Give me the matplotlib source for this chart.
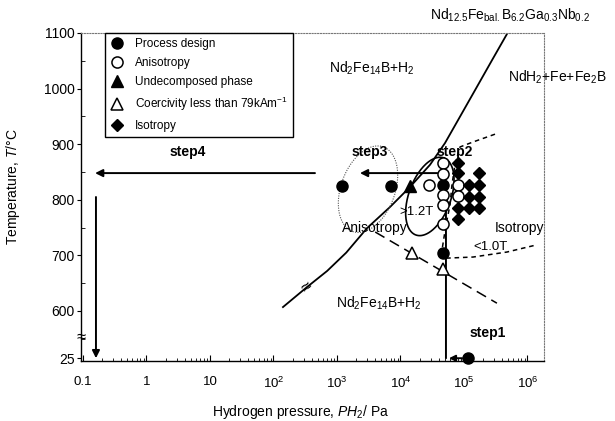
import numpy as np
import matplotlib
matplotlib.use('Agg')
import matplotlib.pyplot as plt
from matplotlib.lines import Line2D

plt.rcParams['font.family'] = ['Liberation Sans', 'DejaVu Sans']
plt.rcParams['mathtext.fontset'] = 'custom'
plt.rcParams['mathtext.rm'] = 'Liberation Sans'
plt.rcParams['mathtext.it'] = 'Liberation Sans:italic'
plt.rcParams['mathtext.bf'] = 'Liberation Sans:bold'

# ---------------- data ----------------
x_ticks = [0.1, 1, 10, 1e2, 1e3, 1e4, 1e5, 1e6]
x_tick_labels = ['0.1', '1', '10', '10$^2$', '10$^3$', '10$^4$', '10$^5$', '10$^6$']
y_ticks = [25, 600, 700, 800, 900, 1000, 1100]
y_tick_labels = ['25', '600', '700', '800', '900', '1000', '1100']

design_P = [1.2e3, 7.0e3, 4.7e4, 4.7e4, 1.15e5]
design_T = [825, 825, 827, 704, 25]
aniso_P = [4.7e4, 4.7e4, 4.7e4, 4.7e4, 4.7e4, 2.8e4, 8.0e4, 8.0e4]
aniso_T = [866, 846, 809, 790, 756, 826, 827, 806]
undec_P = [1.4e4]
undec_T = [825]
lowhc_P = [1.5e4, 4.7e4]
lowhc_T = [704, 676]
iso_P = [8.0e4, 8.0e4, 8.0e4, 8.0e4, 1.2e5, 1.2e5, 1.2e5, 1.75e5, 1.75e5, 1.75e5, 1.75e5]
iso_T = [866, 848, 785, 766, 827, 805, 785, 848, 827, 805, 785]

# HDDR phase boundary of Nd12.5Fe(bal)B6.2Ga0.3Nb0.2
boundary_P = [1.41e2, 3.37e2, 7.0e2, 1.40e3, 2.97e3, 6.84e3, 1.41e4, 2.92e4, 5.02e4,
              7.76e4, 1.49e5, 2.76e5, 4.85e5]
boundary_T = [607, 643, 672, 705, 749, 787, 823, 863, 902, 940, 997, 1051, 1100]

# anisotropy / isotropy border (<1.0T)
border_P = [3.08e5, 1.39e5, 8.65e4, 7.2e4, 6.47e4, 6.03e4, 5.21e4, 4.51e4,
            5.21e4, 1.39e5, 4.75e5, 1.41e6]
border_T = [918, 904, 895, 863, 827, 791, 755, 710, 695, 697, 706, 719]

# coercivity border (long dashed)
hc_line_P = [4.0e3, 3.3e5]
hc_line_T = [742, 614]

# process route (step arrows): (P_start, T_start, P_end, T_end)
step4_h = (450, 848, 0.155, 848)
step4_v = (0.16, 805, 0.16, 25)
step3_h = (3.8e4, 848, 2.3e3, 848)
step1_h = (9.3e4, 25, 5.8e4, 25)
step1_v = (5.2e4, 25, 5.2e4, 806)

Y25 = 515  # axis position standing for 25 degC (axis break)


def ty(t):
    t = np.asarray(t, dtype=float)
    return np.where(t == 25, Y25, t)


# ---------------- figure ----------------
W, H = 615, 421
fig = plt.figure(figsize=(W / 100, H / 100), dpi=100)
ax = fig.add_axes([81 / W, 1 - 361 / H, (544 - 81) / W, (361 - 33) / H])
ax.set_xscale('log')
ax.set_xlim(0.093, 1.82e6)
ax.set_ylim(510, 1100)

# spines
for s in ['top', 'right']:
    ax.spines[s].set_linestyle((0, (1, 1.5)))
    ax.spines[s].set_color('#777777')
    ax.spines[s].set_linewidth(0.8)
for s in ['left', 'bottom']:
    ax.spines[s].set_linewidth(1.0)

ax.set_xticks(x_ticks)
ax.set_xticklabels(x_tick_labels)
ax.set_yticks(ty(y_ticks))
ax.set_yticklabels(y_tick_labels)
ax.set_yticks([550, 650, 750, 850, 950, 1050], minor=True)
ax.tick_params(axis='x', which='major', direction='in', length=4, pad=11, labelsize=9.5)
ax.tick_params(axis='x', which='minor', direction='in', length=2.5)
ax.tick_params(axis='y', which='major', direction='out', length=3, pad=1.5, labelsize=10)
ax.tick_params(axis='y', which='minor', direction='in', length=3)
ax.tick_params(top=False, right=False, which='both')

ax.set_xlabel(r'Hydrogen pressure, $\it{PH_2}$/ Pa', fontsize=10)
ax.xaxis.set_label_coords((301 - 81) / 463, (361 - 403) / 328)
ax.set_ylabel(r'Temperature, $\it{T}$/°C', fontsize=10)
ax.yaxis.set_label_coords(-(81 - 22) / 463, (361 - 187) / 328)

# axis break marks
ax.text(0.0, 553, '≈', transform=ax.get_yaxis_transform(), ha='center', va='center',
        fontsize=12, clip_on=False)

# lines
ax.plot(boundary_P, boundary_T, color='black', lw=1.3, zorder=2)
ax.text(3.4e2, 642, '≈', ha='center', va='center', fontsize=13, rotation=40, zorder=3)
ax.plot(border_P, border_T, color='black', lw=1.1, dashes=(3, 2.5), zorder=2)
ax.plot(hc_line_P, hc_line_T, color='black', lw=1.1, dashes=(7, 4), zorder=2)


def ellipse(cP, cT, a_px, b_px, ang):
    c = ax.transData.transform((cP, cT))
    t = np.linspace(0, 2 * np.pi, 240)
    th = np.deg2rad(ang)
    x = a_px * np.cos(t)
    y = b_px * np.sin(t)
    px = c[0] + x * np.cos(th) - y * np.sin(th)
    py = c[1] + x * np.sin(th) + y * np.cos(th)
    d = ax.transData.inverted().transform(np.column_stack([px, py]))
    return d[:, 0], d[:, 1]


ex, ey = ellipse(3.08e3, 819, 45, 27, 70)
ax.plot(ex, ey, color='#555555', lw=0.8, ls=(0, (1, 1.2)), zorder=2)
ex, ey = ellipse(2.9e4, 806, 41, 21, 70)
ax.plot(ex, ey, color='black', lw=1.2, zorder=2)

# arrows
def arrow(seg, lw=1.4, ms=11):
    p0, t0, p1, t1 = seg
    ax.annotate('', xy=(p1, float(ty(t1))), xytext=(p0, float(ty(t0))),
                arrowprops=dict(arrowstyle='-|>', color='black', lw=lw,
                                mutation_scale=ms, shrinkA=0, shrinkB=0),
                zorder=3, annotation_clip=False)


arrow(step4_h)
arrow(step4_v)
arrow(step3_h)
arrow(step1_h, ms=9)
arrow(step1_v)

# markers
mk = dict(linestyle='none', markersize=8, markeredgecolor='black', zorder=4, clip_on=False)
ax.plot(design_P, ty(design_T), marker='o', markerfacecolor='black', **mk)
ax.plot(aniso_P, ty(aniso_T), marker='o', markerfacecolor='white', markeredgewidth=1.1, **mk)
ax.plot(undec_P, ty(undec_T), marker='^', markerfacecolor='black', **mk)
ax.plot(lowhc_P, ty(lowhc_T), marker='^', markerfacecolor='white', markeredgewidth=1.1, **mk)
ax.plot(iso_P, ty(iso_T), marker='D', markerfacecolor='black', **{**mk, 'markersize': 6.5})

# texts
fs = 10
ax.text(3.5e3, 1037, r'Nd$_2$Fe$_{14}$B+H$_2$', ha='center', va='center', fontsize=fs)
ax.text(4.6e3, 614, r'Nd$_2$Fe$_{14}$B+H$_2$', ha='center', va='center', fontsize=fs)
ax.text(3.0e6, 1021, r'NdH$_2$+Fe+Fe$_2$B', ha='center', va='center', fontsize=fs, clip_on=False)
ax.text(0.927, 1.055, r'Nd$_{12.5}$Fe$_{\mathrm{bal.}}$B$_{6.2}$Ga$_{0.3}$Nb$_{0.2}$',
        transform=ax.transAxes, ha='center', va='center', fontsize=fs, clip_on=False)
ax.text(4.5, 886, 'step4', ha='center', va='center', fontsize=fs, weight='bold')
ax.text(3.3e3, 886, 'step3', ha='center', va='center', fontsize=fs, weight='bold')
ax.text(7.2e4, 886, 'step2', ha='center', va='center', fontsize=fs, weight='bold')
ax.text(2.4e5, 560, 'step1', ha='center', va='center', fontsize=fs, weight='bold')
ax.text(1.8e4, 778, '>1.2T', ha='center', va='center', fontsize=9.5)
ax.text(4.0e3, 749, 'Anisotropy', ha='center', va='center', fontsize=fs)
ax.text(7.6e5, 749, 'Isotropy', ha='center', va='center', fontsize=fs)
ax.text(2.6e5, 715, '<1.0T', ha='center', va='center', fontsize=9.5)

# legend
handles = [
    Line2D([], [], ls='none', marker='o', mfc='black', mec='black', ms=8),
    Line2D([], [], ls='none', marker='o', mfc='white', mec='black', ms=8, mew=1.1),
    Line2D([], [], ls='none', marker='^', mfc='black', mec='black', ms=8),
    Line2D([], [], ls='none', marker='^', mfc='white', mec='black', ms=8, mew=1.1),
    Line2D([], [], ls='none', marker='D', mfc='black', mec='black', ms=6.5),
]
labels = ['Process design', 'Anisotropy', 'Undecomposed phase',
          r'Coercivity less than 79kAm$^{-1}$', 'Isotropy']
leg = ax.legend(handles, labels, loc='upper left', bbox_to_anchor=(0.052, 1.0),
                borderaxespad=0, fancybox=False, edgecolor='black', framealpha=1,
                fontsize=8.5, handlelength=1.2, handletextpad=0.9, labelspacing=0.58,
                borderpad=0.45)
leg.get_frame().set_linewidth(1.0)

fig.savefig('out.png', dpi=100)
